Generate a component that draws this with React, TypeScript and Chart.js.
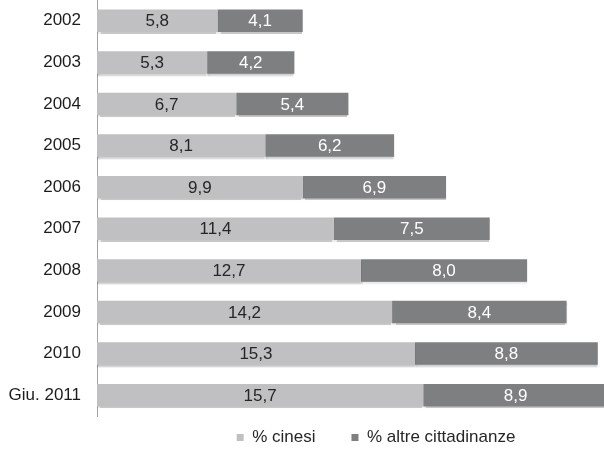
import React, { useEffect, useRef } from "react";
import { Chart, registerables } from "chart.js";

Chart.register(...registerables);

const categories = ["2002", "2003", "2004", "2005", "2006", "2007", "2008", "2009", "2010", "Giu. 2011"];
const cinesi = [5.8, 5.3, 6.7, 8.1, 9.9, 11.4, 12.7, 14.2, 15.3, 15.7];
const altre = [4.1, 4.2, 5.4, 6.2, 6.9, 7.5, 8.0, 8.4, 8.8, 8.9];
const seriesNames = ["% cinesi", "% altre cittadinanze"];

const FONT = "'Liberation Sans', Arial, sans-serif";
const LIGHT = "#c0c0c2";
const DARK = "#7e7f81";

const fmt = (v: number) => v.toFixed(1).replace(".", ",");

// soft drop shadow under the bars
const barShadow = {
  id: "barShadow",
  beforeDatasetsDraw(chart: any) {
    const ctx = chart.ctx;
    ctx.save();
    ctx.shadowColor = "rgba(0,0,0,0.22)";
    ctx.shadowOffsetY = 2;
    ctx.shadowBlur = 1.5;
  },
  afterDatasetsDraw(chart: any) {
    chart.ctx.restore();
  },
};

// value labels centred inside each segment
const valueLabels = {
  id: "valueLabels",
  afterDatasetsDraw(chart: any) {
    const ctx = chart.ctx;
    ctx.save();
    ctx.font = `17px ${FONT}`;
    ctx.textAlign = "center";
    ctx.textBaseline = "middle";
    chart.data.datasets.forEach((ds: any, di: number) => {
      const meta = chart.getDatasetMeta(di);
      ctx.fillStyle = di === 0 ? "#262626" : "#ffffff";
      meta.data.forEach((bar: any, i: number) => {
        const x = (bar.x + bar.base) / 2;
        ctx.fillText(fmt(ds.data[i]), x, bar.y + 1);
      });
    });
    ctx.restore();
  },
};

// place the legend row under the plot
const legendPlacement = {
  id: "legendPlacement",
  afterLayout(chart: any) {
    const lg = chart.legend;
    if (!lg) return;
    const shiftX = 74;
    lg.left += shiftX;
    lg.right += shiftX;
    lg.top = 393;
    lg.bottom = 449;
  },
};

export default function App() {
  const ref = useRef<HTMLCanvasElement | null>(null);

  useEffect(() => {
    if (!ref.current) return;
    const chart = new Chart(ref.current, {
      type: "bar",
      data: {
        labels: categories,
        datasets: [
          {
            label: seriesNames[0],
            data: cinesi,
            backgroundColor: LIGHT,
            borderWidth: 0,
            barPercentage: 0.54,
            categoryPercentage: 1,
          },
          {
            label: seriesNames[1],
            data: altre,
            backgroundColor: DARK,
            borderWidth: 0,
            barPercentage: 0.54,
            categoryPercentage: 1,
          },
        ],
      },
      options: {
        indexAxis: "y",
        responsive: false,
        animation: false,
        devicePixelRatio: 1,
        layout: { padding: 0 },
        scales: {
          x: {
            stacked: true,
            display: false,
            min: 0,
            max: 24.4,
          },
          y: {
            stacked: true,
            grid: { display: false, drawTicks: false },
            border: { display: true, color: "#a3a3a3", width: 1 },
            ticks: {
              color: "#1c1c1c",
              padding: 16,
              font: { family: FONT, size: 17 },
            },
            afterFit(scale: any) {
              scale.width = 97;
              scale.paddingTop = 0;
              scale.paddingBottom = 0;
            },
          },
        },
        plugins: {
          legend: {
            position: "bottom",
            maxHeight: 33,
            labels: {
              boxWidth: 7,
              boxHeight: 7,
              padding: 36,
              color: "#262626",
              font: { family: FONT, size: 17 },
            },
          },
          tooltip: { enabled: false },
        },
      },
      plugins: [barShadow, valueLabels, legendPlacement],
    } as any);
    return () => chart.destroy();
  }, []);

  return (
    <div style={{ position: "fixed", left: 0, top: 0, width: 604, height: 449, background: "#fff" }}>
      <canvas ref={ref} width={604} height={449} />
    </div>
  );
}
